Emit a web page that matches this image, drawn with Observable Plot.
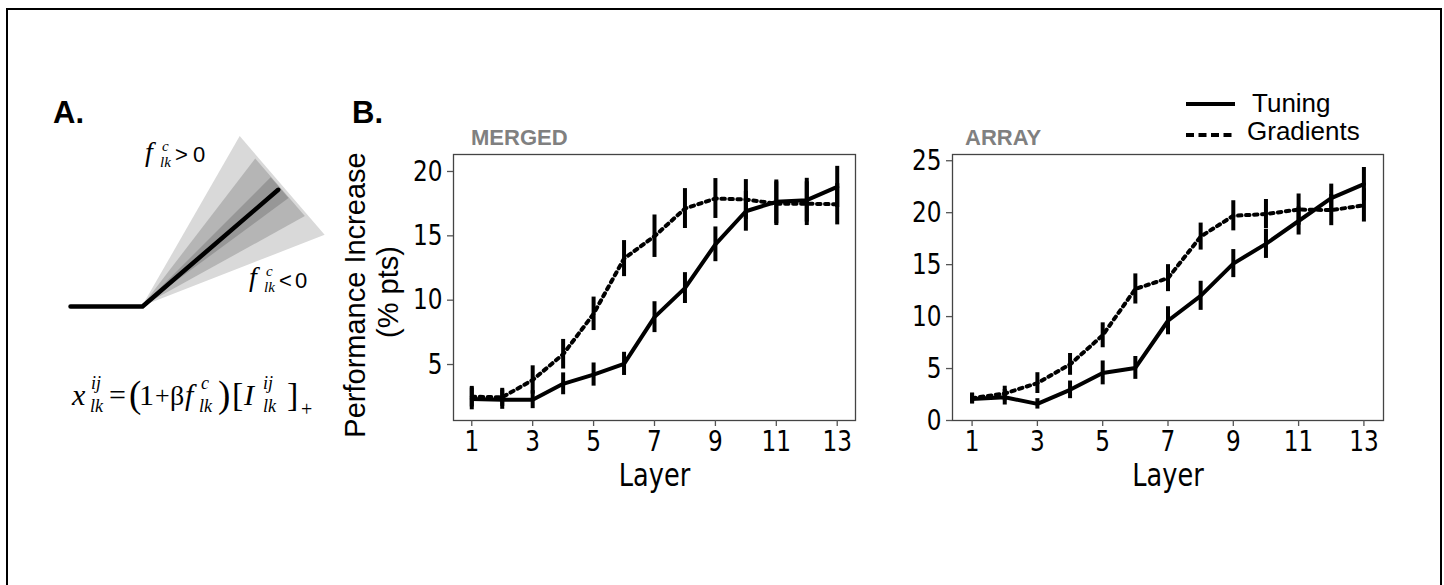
<!DOCTYPE html>
<html><head><meta charset="utf-8">
<script src="https://cdn.jsdelivr.net/npm/d3@7"></script>
<script src="https://cdn.jsdelivr.net/npm/@observablehq/plot@0.6"></script>
<style>
html,body{margin:0;padding:0;background:#fff;}
#root{position:relative;width:1444px;height:585px;overflow:hidden;background:#fff;}
#border{position:absolute;left:6px;top:8px;width:1432px;height:640px;border:2px solid #000;}
.panel{position:absolute;}
.panel svg{overflow:visible;}
#overlay{position:absolute;left:0;top:0;pointer-events:none;}
</style></head><body><div id="root"><div id="border"></div></div>
<script>
// ---------- data ----------
const layers = [1, 2, 3, 4, 5, 6, 7, 8, 9, 10, 11, 12, 13];
const xTicks = [1, 3, 5, 7, 9, 11, 13];
const mergedYTicks = [5, 10, 15, 20];
const arrayYTicks = [0, 5, 10, 15, 20, 25];

const mergedTuning    = [2.33, 2.27, 2.27, 3.5, 4.22, 5.05, 8.68, 10.94, 14.34, 16.91, 17.64, 17.77, 18.8];
const mergedTuningErr = [0.85, 0.75, 0.7, 0.85, 0.9, 0.9, 1.2, 1.2, 1.35, 1.55, 1.7, 1.7, 1.6];
const mergedGrad      = [2.5, 2.45, 3.8, 5.8, 8.94, 13.23, 14.97, 17.12, 17.9, 17.82, 17.5, 17.5, 17.45];
const mergedGradErr   = [0.8, 0.7, 1.1, 1.15, 1.3, 1.4, 1.65, 1.55, 1.55, 1.55, 1.7, 1.7, 1.6];

const arrayTuning    = [2.08, 2.24, 1.6, 2.95, 4.58, 5.06, 9.6, 12.0, 15.1, 17.0, 19.2, 21.4, 22.75];
const arrayTuningErr = [0.5, 0.75, 0.5, 0.85, 1.15, 1.1, 1.35, 1.4, 1.35, 1.4, 1.35, 1.35, 1.6];
const arrayGrad      = [2.15, 2.6, 3.6, 5.4, 8.2, 12.66, 13.7, 17.7, 19.7, 19.87, 20.3, 20.25, 20.7];
const arrayGradErr   = [0.5, 0.7, 1.0, 1.05, 1.2, 1.45, 1.3, 1.3, 1.45, 1.4, 1.5, 1.5, 1.6];

// schematic (panel A): rectified response with gain fan
const fanAngleDeg = 40.7;
const fanLineLength = 179;
const flatLength = 72;
const wedgeHalfAnglesDeg = [19.4, 11.8, 4.3];
const wedgeRadii = [196, 186, 182];

// ---------- helpers ----------
const root = document.getElementById("root");
function place(node, left, top) {
  const d = document.createElement("div");
  d.className = "panel";
  d.style.left = left + "px";
  d.style.top = top + "px";
  d.appendChild(node);
  root.appendChild(d);
  return node;
}
// the reference figure is horizontally compressed: narrow the glyphs of the tick/axis texts
function narrowTexts(svgNode, factor) {
  svgNode.querySelectorAll("text").forEach(el => {
    if (el.querySelector("tspan")) return;
    const w = el.getComputedTextLength();
    if (w > 0) {
      el.setAttribute("textLength", (w * factor).toFixed(2));
      el.setAttribute("lengthAdjust", "spacingAndGlyphs");
    }
  });
}

const tickFont = "DejaVu Sans, sans-serif";

function panel(tuning, tErr, grad, gErr, yDomain, yTicks, width, mLeft, mRight) {
  const rows = layers.map((l, i) => ({layer: l, tuning: tuning[i], tErr: tErr[i], grad: grad[i], gErr: gErr[i]}));
  return Plot.plot({
    width, height: 370,
    marginLeft: mLeft, marginRight: mRight, marginTop: 14, marginBottom: 90,
    x: {domain: [0.4, 13.6]},
    y: {domain: yDomain},
    style: {fontFamily: tickFont, fontSize: "29px", color: "#000", background: "transparent", overflow: "visible"},
    marks: [
      Plot.frame({stroke: "#444", strokeWidth: 1.3}),
      Plot.axisX({ticks: xTicks, tickSize: 6, tickFormat: () => "", stroke: "#555", strokeWidth: 1.3, label: null}),
      Plot.axisX({ticks: xTicks, tickSize: 0, tickPadding: 10, fontSize: 29, fill: "#000", label: null}),
      Plot.axisY({ticks: yTicks, tickSize: 6, tickFormat: () => "", stroke: "#555", strokeWidth: 1.3, label: null}),
      Plot.axisY({ticks: yTicks, tickSize: 0, tickPadding: 11, fontSize: 29, fill: "#000", label: null}),
      Plot.ruleX(rows, {x: "layer", y1: d => d.grad - d.gErr, y2: d => d.grad + d.gErr, stroke: "#000", strokeWidth: 4}),
      Plot.ruleX(rows, {x: "layer", y1: d => d.tuning - d.tErr, y2: d => d.tuning + d.tErr, stroke: "#000", strokeWidth: 4}),
      Plot.line(rows, {x: "layer", y: "grad", stroke: "#000", strokeWidth: 4, strokeDasharray: "3.5,4.5"}),
      Plot.line(rows, {x: "layer", y: "tuning", stroke: "#000", strokeWidth: 4}),
      Plot.text(["Layer"], {frameAnchor: "bottom", dy: 65, fontSize: 32, fill: "#000"})
    ]
  });
}

// merged panel
narrowTexts(place(panel(mergedTuning, mergedTuningErr, mergedGrad, mergedGradErr, [0.65, 21.32], mergedYTicks, 480, 53, 25), 400, 140), 0.8);
// array panel
narrowTexts(place(panel(arrayTuning, arrayTuningErr, arrayGrad, arrayGradErr, [0, 25.6], arrayYTicks, 500, 52, 17), 900, 140), 0.8);

// panel A schematic
const rad = Math.PI / 180;
const lineDir = fanAngleDeg * rad;
const wedgeShade = ["#d9d9d9", "#b5b5b5", "#979797"];
const fanMarks = wedgeHalfAnglesDeg.map((h, i) => {
  const r = wedgeRadii[i];
  const pts = [
    {x1: 0, y1: 0, x2: 0, y2: 0},
    {x1: r * Math.cos(lineDir + h * rad), y1: r * Math.sin(lineDir + h * rad),
     x2: r * Math.cos(lineDir - h * rad), y2: r * Math.sin(lineDir - h * rad)}
  ];
  return Plot.area(pts, {x1: "x1", y1: "y1", x2: "x2", y2: "y2", fill: wedgeShade[i], curve: "linear"});
});
const responsePts = [
  {x: -flatLength, y: 0},
  {x: 0, y: 0},
  {x: fanLineLength * Math.cos(lineDir), y: fanLineLength * Math.sin(lineDir)}
];
place(Plot.plot({
  width: 300, height: 260, margin: 0,
  x: {axis: null, domain: [-102, 198]},
  y: {axis: null, domain: [-34, 226]},
  style: {background: "transparent", overflow: "visible"},
  marks: [
    ...fanMarks,
    Plot.line(responsePts, {x: "x", y: "y", stroke: "#000", strokeWidth: 4.5})
  ]
}), 40, 80);

// ---------- overlay texts ----------
const svg = d3.select(root).append("svg").attr("id", "overlay").attr("width", 1444).attr("height", 585);
function T(x, y, s, o = {}) {
  const t = svg.append("text").attr("x", x).attr("y", y).text(s)
    .attr("font-family", o.font || "Liberation Sans, Arial, sans-serif")
    .attr("font-size", o.size || 20)
    .attr("fill", o.fill || "#000");
  if (o.weight) t.attr("font-weight", o.weight);
  if (o.italic) t.attr("font-style", "italic");
  if (o.anchor) t.attr("text-anchor", o.anchor);
  if (o.rotate) t.attr("transform", `rotate(-90 ${x} ${y})`);
  return t;
}
// panel letters
T(53, 123, "A.", {size: 31, weight: "bold"});
T(352, 123, "B.", {size: 31, weight: "bold"});
// titles
T(471, 145, "MERGED", {size: 22, weight: "bold", fill: "#808080"});
T(965, 145, "ARRAY", {size: 22, weight: "bold", fill: "#808080"});
// y label
T(365, 295, "Performance Increase", {size: 29, anchor: "middle", rotate: true});
T(398, 292, "(% pts)", {size: 29, anchor: "middle", rotate: true});
// legend
svg.append("line").attr("x1", 1186).attr("x2", 1235).attr("y1", 104).attr("y2", 104).attr("stroke", "#000").attr("stroke-width", 4);
svg.append("line").attr("x1", 1186).attr("x2", 1235).attr("y1", 135).attr("y2", 135).attr("stroke", "#000").attr("stroke-width", 4).attr("stroke-dasharray", "8,4.5");
T(1252, 112, "Tuning", {size: 26});
T(1247, 140, "Gradients", {size: 26});

// math labels
const serif = "Liberation Serif, Times New Roman, serif";
const M = (x, y, s, size, italic) => T(x, y, s, {font: serif, size, italic});
// f^c_lk > 0
M(145, 161, "f", 28, true); M(162, 151, "c", 15, true); M(160, 167, "lk", 15, true);
T(175, 162, ">", {size: 22}); T(193, 162, "0", {size: 22});
// f^c_lk < 0
M(249, 286, "f", 28, true); M(266, 276, "c", 15, true); M(264, 292, "lk", 15, true);
T(279, 288, "<", {size: 22}); T(295, 288, "0", {size: 22});
// x^{ij}_{lk} = (1 + β f^c_lk)[I^{ij}_{lk}]_+
M(72, 405, "x", 30, true); M(91, 389, "ij", 18, true); M(90, 412, "lk", 18, true);
M(109, 405, "=", 30, false);
M(129, 407, "(", 37, false);
M(139, 405, "1", 30, false);
M(155, 404, "+", 26, false);
M(170, 405, "β", 28, false);
M(185, 405, "f", 30, true); M(201, 389, "c", 18, true); M(199, 412, "lk", 18, true);
M(218, 407, ")", 37, false);
M(232, 406, "[", 34, false);
M(244, 405, "I", 30, true); M(263, 389, "ij", 18, true); M(263, 412, "lk", 18, true);
M(287, 406, "]", 34, false);
M(301, 416, "+", 20, false);
</script></body></html>
